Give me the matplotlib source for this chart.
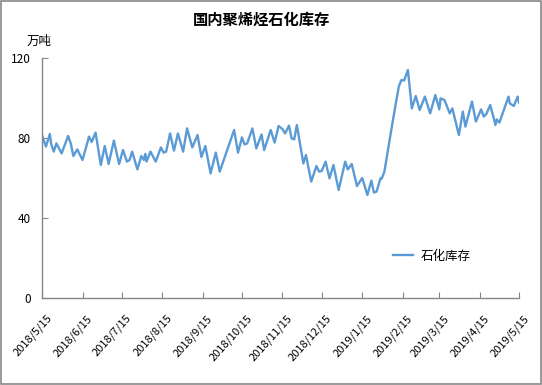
import matplotlib
matplotlib.use('Agg')
import matplotlib.pyplot as plt
import matplotlib.transforms as mtransforms
import pandas as pd
from matplotlib.patches import Rectangle

plt.rcParams['font.family'] = ['Noto Sans CJK SC', 'DejaVu Sans']

title = '国内聚烯烃石化库存'
unit = '万吨'
series_name = '石化库存'

dates = [
    '2018-05-15', '2018-05-18', '2018-05-21', '2018-05-22', '2018-05-24', '2018-05-26',
    '2018-05-30', '2018-06-04', '2018-06-06', '2018-06-08', '2018-06-11', '2018-06-15',
    '2018-06-20', '2018-06-22', '2018-06-25', '2018-06-29', '2018-07-02', '2018-07-05',
    '2018-07-09', '2018-07-13', '2018-07-16', '2018-07-19', '2018-07-21', '2018-07-23',
    '2018-07-27', '2018-07-30', '2018-08-01', '2018-08-02', '2018-08-03', '2018-08-06',
    '2018-08-10', '2018-08-14', '2018-08-16', '2018-08-18', '2018-08-21', '2018-08-24',
    '2018-08-27', '2018-08-31', '2018-09-03', '2018-09-07', '2018-09-11', '2018-09-14',
    '2018-09-17', '2018-09-21', '2018-09-25', '2018-09-28', '2018-10-09', '2018-10-12',
    '2018-10-15', '2018-10-17', '2018-10-19', '2018-10-23', '2018-10-26', '2018-10-30',
    '2018-11-01', '2018-11-06', '2018-11-09', '2018-11-12', '2018-11-15', '2018-11-17',
    '2018-11-20', '2018-11-22', '2018-11-24', '2018-11-26', '2018-12-01', '2018-12-03',
    '2018-12-07', '2018-12-11', '2018-12-13', '2018-12-15', '2018-12-18', '2018-12-21',
    '2018-12-24', '2018-12-28', '2019-01-02', '2019-01-04', '2019-01-07', '2019-01-11',
    '2019-01-15', '2019-01-19', '2019-01-22', '2019-01-24', '2019-01-26', '2019-01-29',
    '2019-01-30', '2019-02-01', '2019-02-05', '2019-02-08', '2019-02-12', '2019-02-14',
    '2019-02-16', '2019-02-19', '2019-02-22', '2019-02-25', '2019-02-28', '2019-03-04',
    '2019-03-08', '2019-03-12', '2019-03-15', '2019-03-16', '2019-03-19', '2019-03-23',
    '2019-03-25', '2019-03-30', '2019-04-02', '2019-04-04', '2019-04-09', '2019-04-12',
    '2019-04-16', '2019-04-18', '2019-04-20', '2019-04-23', '2019-04-27', '2019-04-28',
    '2019-04-30', '2019-05-07', '2019-05-08', '2019-05-11', '2019-05-14', '2019-05-15',
]

values = [
    81.5, 75.7, 82.0, 77.0, 73.2, 77.3,
    72.3, 81.0, 77.3, 71.0, 74.3, 69.0,
    80.7, 78.0, 82.7, 66.5, 76.0, 67.0,
    78.7, 67.0, 74.0, 68.2, 69.0, 73.2,
    64.3, 71.0, 69.0, 72.0, 68.2, 73.2,
    68.2, 75.3, 72.7, 73.2, 82.3, 73.7,
    82.3, 73.2, 84.8, 75.3, 81.5, 70.5,
    76.0, 62.3, 72.7, 63.2, 84.0, 72.7,
    80.3, 76.8, 77.3, 84.8, 74.8, 81.8,
    74.0, 84.0, 77.7, 86.0, 84.5, 82.3,
    86.2, 79.8, 79.3, 86.5, 67.3, 71.5,
    58.2, 66.0, 63.2, 63.5, 68.2, 59.8,
    66.5, 54.0, 68.2, 64.3, 67.0, 56.0,
    60.0, 51.5, 58.7, 52.7, 53.2, 59.8,
    59.8, 63.2, 79.0, 90.7, 105.7, 109.0,
    108.7, 114.0, 94.8, 101.0, 94.0, 100.7,
    92.3, 101.5, 94.3, 99.8, 99.0, 92.3,
    94.8, 81.5, 93.2, 85.7, 98.2, 88.2,
    94.3, 90.7, 92.0, 96.5, 86.5, 89.3,
    87.7, 100.7, 97.3, 96.0, 100.7, 97.7,
]

yticks = [0, 40, 80, 120]
tick_dates = ['2018-05-15', '2018-06-15', '2018-07-15', '2018-08-15', '2018-09-15',
              '2018-10-15', '2018-11-15', '2018-12-15', '2019-01-15', '2019-02-15',
              '2019-03-15', '2019-04-15', '2019-05-15']
tick_labels = ['2018/5/15', '2018/6/15', '2018/7/15', '2018/8/15', '2018/9/15',
               '2018/10/15', '2018/11/15', '2018/12/15', '2019/1/15', '2019/2/15',
               '2019/3/15', '2019/4/15', '2019/5/15']

W, H = 542, 385
fig = plt.figure(figsize=(W / 100, H / 100), dpi=100)
ax = fig.add_axes([42 / W, 1 - 298 / H, 477 / W, 240 / H])

ax.plot(pd.to_datetime(dates), values, color='#5B9BD5', lw=1.7, label=series_name)

ax.set_xlim(pd.Timestamp(tick_dates[0]), pd.Timestamp(tick_dates[-1]))
ax.set_ylim(0, 120)
ax.set_yticks(yticks)
ax.set_xticks(pd.to_datetime(tick_dates))
ax.set_xticklabels(tick_labels, rotation=48, ha='right', va='center',
                   rotation_mode='anchor', fontsize=8)
ax.tick_params(axis='x', direction='in', length=4, color='#868686', pad=9)
ax.tick_params(axis='y', direction='in', length=4, color='#868686', pad=8, labelsize=8.5)

offset = mtransforms.ScaledTranslation(8 / 100, -6 / 100, fig.dpi_scale_trans)
for lbl in ax.get_xticklabels():
    lbl.set_transform(lbl.get_transform() + offset)

for s in ['top', 'right']:
    ax.spines[s].set_visible(False)
for s in ['left', 'bottom']:
    ax.spines[s].set_color('#868686')
    ax.spines[s].set_linewidth(1)

fig.text(261 / W, 1 - 20 / H, title, ha='center', va='center', fontsize=11, fontweight='bold')
fig.text(39 / W, 1 - 41 / H, unit, ha='center', va='center', fontsize=9)

ax.legend(loc='center left', bbox_to_anchor=((393 - 42) / 477, (298 - 256) / 240),
          frameon=False, fontsize=9, borderpad=0, borderaxespad=0,
          handlelength=1.6, handletextpad=0.6)

fig.patches.append(Rectangle((0.001, 0.002), 0.997, 0.996, transform=fig.transFigure,
                             fill=False, edgecolor='#888888', lw=1.2))

fig.savefig('out.png', dpi=100)
